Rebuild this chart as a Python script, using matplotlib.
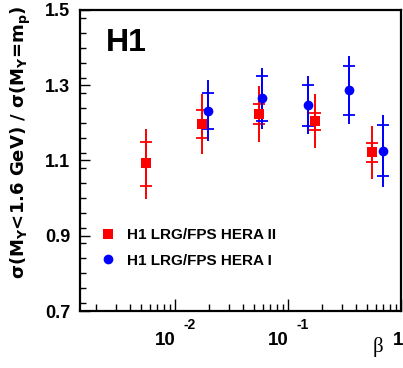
import matplotlib
matplotlib.use("Agg")
import matplotlib.pyplot as plt
from matplotlib.ticker import FixedLocator, FuncFormatter, NullFormatter, MultipleLocator
import numpy as np

plt.rcParams['font.family'] = ['Liberation Sans', 'DejaVu Sans']
plt.rcParams['mathtext.fontset'] = 'custom'
plt.rcParams['mathtext.rm'] = 'DejaVu Sans:bold'
plt.rcParams['mathtext.bf'] = 'DejaVu Sans:bold'
plt.rcParams['mathtext.it'] = 'DejaVu Sans:bold:italic'

# HERA II (red squares)
beta_h2 = [0.00555, 0.0175, 0.0555, 0.175, 0.555]
val_h2 = [1.093, 1.197, 1.224, 1.204, 1.122]
stat_lo_h2 = [1.033, 1.161, 1.198, 1.182, 1.096]
stat_hi_h2 = [1.150, 1.233, 1.251, 1.227, 1.147]
tot_lo_h2 = [0.999, 1.118, 1.150, 1.132, 1.051]
tot_hi_h2 = [1.183, 1.276, 1.298, 1.276, 1.191]

# HERA I (blue circles)
beta_h1 = [0.0198, 0.0594, 0.149, 0.346, 0.69]
val_h1 = [1.232, 1.265, 1.247, 1.287, 1.126]
stat_lo_h1 = [1.185, 1.206, 1.192, 1.222, 1.060]
stat_hi_h1 = [1.280, 1.324, 1.301, 1.352, 1.194]
tot_lo_h1 = [1.151, 1.185, 1.170, 1.197, 1.030]
tot_hi_h1 = [1.313, 1.345, 1.324, 1.378, 1.222]

labels = ['H1 LRG/FPS HERA II', 'H1 LRG/FPS HERA I']
xtick_pos = [0.01, 0.1]
xtick_exp = ['-2', '-1']
ytick_pos = [0.7, 0.9, 1.1, 1.3, 1.5]

W, H = 403, 368
fig = plt.figure(figsize=(W/100, H/100), dpi=100)
ax = fig.add_axes([80/W, 1-311/H, 321/W, 301/H])

def draw(b, v, slo, shi, tlo, thi, color, marker, ms, label):
    v = np.array(v)
    ax.errorbar(b, v, yerr=[v-np.array(tlo), np.array(thi)-v], fmt='none',
                ecolor=color, elinewidth=1.4, capsize=0, zorder=2)
    ax.errorbar(b, v, yerr=[v-np.array(slo), np.array(shi)-v], fmt='none',
                ecolor=color, elinewidth=1.4, capsize=4, capthick=1.3, zorder=2)
    ax.plot(b, v, linestyle='none', marker=marker, color=color, ms=ms,
            markeredgewidth=0, zorder=3, label=label)

draw(beta_h2, val_h2, stat_lo_h2, stat_hi_h2, tot_lo_h2, tot_hi_h2, '#ff0000', 's', 6.5, labels[0])
draw(beta_h1, val_h1, stat_lo_h1, stat_hi_h1, tot_lo_h1, tot_hi_h1, '#0000ff', 'o', 7, labels[1])

ax.set_xscale('log')
ax.set_xlim(0.00145, 1.0)
ax.set_ylim(0.7, 1.5)

ax.yaxis.set_major_locator(FixedLocator(ytick_pos))
ax.yaxis.set_minor_locator(MultipleLocator(0.04))
ax.yaxis.set_major_formatter(FuncFormatter(lambda v, p: f'{v:.1f}'))

ax.xaxis.set_major_locator(FixedLocator(xtick_pos + [1.0]))
ax.xaxis.set_major_formatter(NullFormatter())
ax.xaxis.set_minor_formatter(NullFormatter())

ax.tick_params(axis='both', which='both', direction='in', top=False, right=False,
               labelsize=13, width=1)
ax.tick_params(axis='y', which='major', length=7, pad=7)
ax.tick_params(axis='y', which='minor', length=4)
ax.tick_params(axis='x', which='major', length=9)
ax.tick_params(axis='x', which='minor', length=5)
for lab in ax.get_yticklabels():
    lab.set_fontweight('bold')
for s in ax.spines.values():
    s.set_linewidth(1.6)

# x tick labels drawn ROOT style: "10" with a separated exponent
for xp, ex in zip(xtick_pos, xtick_exp):
    ax.annotate('10', xy=(xp, 0), xycoords=('data', 'axes fraction'),
                xytext=(1, -34), textcoords='offset pixels', ha='right', va='baseline',
                fontsize=13.5, fontweight='bold')
    ax.annotate(ex, xy=(xp, 0), xycoords=('data', 'axes fraction'),
                xytext=(9, -18), textcoords='offset pixels', ha='left', va='baseline',
                fontsize=10, fontweight='bold')
fig.text(403/W, 1-345/H, '1', fontsize=13.5, fontweight='bold', ha='right', va='baseline')

ax.text((106-80)/321, 1-(28-10)/301, 'H1', transform=ax.transAxes, fontsize=23,
        fontweight='bold', va='top', ha='left')

leg = ax.legend(loc='upper left', bbox_to_anchor=(14/321, 1-(222-10)/301),
                frameon=False, prop={'weight': 'bold', 'size': 11},
                handletextpad=0.75, labelspacing=0.75, handlelength=1.0, borderaxespad=0)

fig.text(21/W, 1-142/H,
         r'σ(M$_\mathbf{Y}$<1.6 GeV) / σ(M$_\mathbf{Y}$=m$_\mathbf{p}$)',
         rotation=90, fontsize=13, fontweight='bold', family='DejaVu Sans',
         ha='center', va='center')
fig.text(378/W, 1-347/H, 'β', fontsize=15, family='Liberation Serif',
         ha='center', va='center')

fig.savefig('out.png', dpi=100)
